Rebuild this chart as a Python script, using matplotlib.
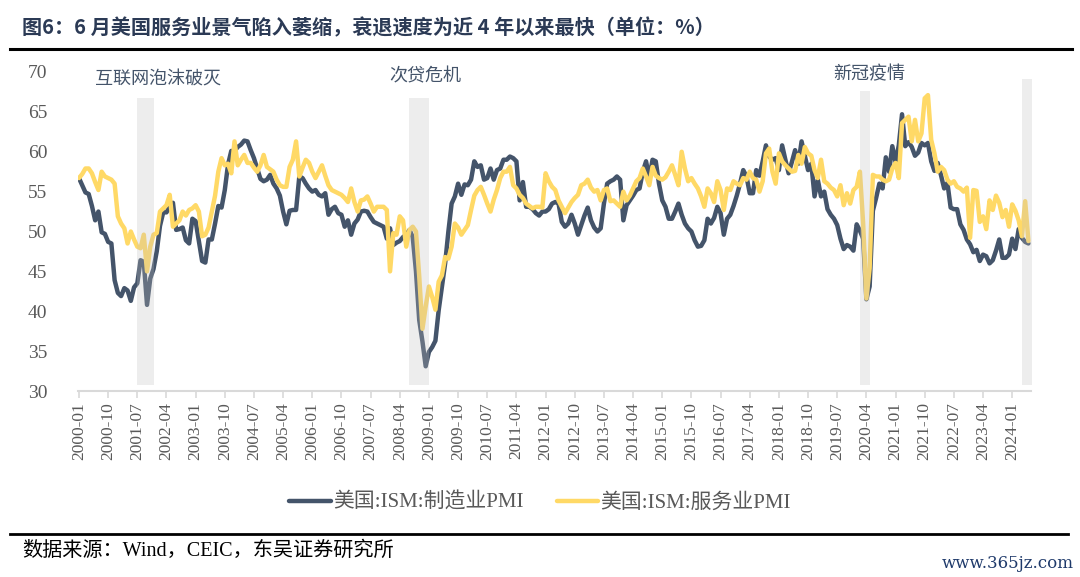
import numpy as np
import pandas as pd
import matplotlib
matplotlib.use('Agg')
from matplotlib import pyplot as plt
from matplotlib.lines import Line2D

# ISM PMI, monthly, 2000-01 .. 2024-06
months = pd.period_range('2000-01', periods=294, freq='M').strftime('%Y-%m').tolist()

mfg = [
    56.7, 55.8, 54.9, 54.7, 53.2, 51.4, 52.5, 49.9, 49.7, 48.7, 48.5, 43.9,  # 2000
    42.3, 41.9, 42.9, 42.6, 41.3, 43.0, 43.5, 46.4, 46.2, 40.8, 44.1, 45.3,  # 2001
    47.5, 50.7, 52.4, 52.4, 53.1, 53.6, 50.2, 50.3, 50.5, 48.9, 48.5, 51.6,  # 2002
    51.3, 48.8, 46.3, 46.1, 49.0, 49.0, 51.0, 53.2, 53.0, 55.2, 58.4, 60.1,  # 2003
    60.1, 60.6, 60.9, 61.4, 61.3, 60.2, 59.2, 57.9, 56.6, 56.3, 56.5, 57.1,  # 2004
    56.0, 55.4, 54.5, 52.5, 50.9, 52.6, 52.7, 52.7, 56.9, 56.7, 56.0, 55.4,  # 2005
    55.0, 55.2, 54.6, 54.4, 54.8, 52.1, 52.8, 53.1, 52.3, 52.1, 50.6, 51.4,  # 2006
    49.6, 51.0, 51.5, 52.5, 52.6, 52.5, 51.8, 51.2, 51.0, 50.8, 50.6, 49.1,  # 2007
    50.4, 48.3, 48.6, 48.8, 49.3, 49.6, 50.2, 49.3, 45.0, 38.9, 36.2, 33.1,  # 2008
    34.9, 35.5, 36.3, 40.1, 43.0, 46.0, 50.0, 53.5, 54.4, 56.0, 54.6, 55.9,  # 2009
    55.8, 56.5, 58.8, 58.1, 58.3, 56.5, 56.7, 57.9, 56.5, 57.7, 57.9, 59.0,  # 2010
    59.0, 59.4, 59.2, 58.8, 53.9, 56.2, 53.1, 53.1, 52.8, 52.3, 52.0, 52.5,  # 2011
    52.5, 52.8, 53.5, 53.7, 53.5, 51.2, 50.6, 51.0, 52.1, 51.0, 49.6, 50.8,  # 2012
    52.0, 53.0, 51.4, 50.5, 50.0, 50.4, 53.5, 56.0, 56.3, 56.5, 56.9, 56.5,  # 2013
    51.4, 53.3, 53.9, 54.5, 55.2, 55.4, 57.5, 58.8, 56.7, 59.0, 58.8, 56.0,  # 2014
    53.9, 53.1, 51.6, 51.6, 52.5, 53.5, 52.1, 51.0, 50.4, 50.0, 48.9, 48.1,  # 2015
    48.2, 48.9, 51.6, 51.0, 51.7, 53.1, 52.3, 49.6, 51.6, 52.1, 53.2, 54.5,  # 2016
    56.0, 57.7, 56.9, 54.8, 54.8, 57.7, 57.0, 58.8, 60.8, 59.4, 59.0, 59.2,  # 2017
    57.7, 60.8, 59.0, 57.3, 58.7, 60.2, 58.5, 61.3, 59.5, 57.7, 58.5, 54.4,  # 2018
    56.5, 54.4, 55.0, 52.8, 52.1, 51.6, 50.8, 49.1, 47.8, 48.3, 48.1, 47.6,  # 2019
    50.9, 50.1, 49.1, 41.5, 43.1, 52.6, 54.2, 56.0, 55.4, 59.3, 57.5, 60.7,  # 2020
    58.7, 60.8, 64.7, 60.7, 61.2, 60.6, 59.5, 59.9, 61.1, 60.8, 61.1, 58.8,  # 2021
    57.6, 58.6, 57.1, 55.4, 56.1, 53.0, 52.8, 52.8, 50.9, 50.2, 49.0, 48.4,  # 2022
    47.4, 47.7, 46.3, 47.1, 46.9, 46.0, 46.4, 47.6, 49.0, 46.7, 46.7, 47.1,  # 2023
    49.1, 47.8, 50.3, 49.2, 48.7, 48.5,                                      # 2024
]

svc = [
    56.7, 57.2, 57.9, 57.9, 57.3, 56.2, 55.2, 57.5, 56.9, 56.7, 56.5, 56.0,  # 2000
    51.9, 51.0, 50.4, 48.5, 50.0, 49.0, 48.1, 47.9, 49.6, 45.0, 48.1, 49.6,  # 2001
    49.8, 52.5, 52.9, 53.3, 54.6, 50.6, 51.0, 51.4, 52.5, 52.0, 52.7, 52.9,  # 2002
    53.3, 52.5, 49.4, 49.6, 50.5, 52.5, 54.5, 57.5, 59.2, 58.3, 58.5, 57.3,  # 2003
    61.3, 58.3, 59.0, 59.6, 58.6, 58.6, 58.0, 57.5, 58.3, 59.6, 58.1, 57.8,  # 2004
    57.5, 56.5, 55.8, 55.6, 55.6, 58.1, 59.0, 61.3, 56.9, 58.0, 59.0, 58.6,  # 2005
    57.5, 56.7, 57.5, 58.3, 57.0, 55.8, 55.2, 55.0, 54.8, 54.6, 54.2, 53.7,  # 2006
    55.4, 53.7, 52.5, 53.9, 54.0, 54.4, 53.5, 52.5, 53.1, 53.1, 53.1, 52.7,  # 2007
    45.0, 49.8, 49.6, 51.9, 51.4, 48.1, 50.2, 50.6, 50.0, 44.4, 37.8, 40.6,  # 2008
    43.1, 41.8, 40.2, 43.7, 44.5, 46.8, 46.6, 48.1, 51.0, 50.5, 49.6, 50.2,  # 2009
    50.8, 52.7, 54.5, 55.2, 55.6, 54.6, 53.5, 52.5, 54.0, 55.2, 56.7, 57.5,  # 2010
    57.5, 58.1, 55.8, 55.4, 54.6, 54.2, 53.5, 53.2, 52.9, 53.1, 53.1, 53.0,  # 2011
    57.3, 56.3, 55.6, 55.2, 53.9, 53.1, 52.3, 53.0, 53.7, 54.2, 54.6, 55.8,  # 2012
    56.0, 56.5, 55.5, 55.0, 55.2, 53.9, 55.2, 55.4, 53.8, 53.9, 53.5, 53.1,  # 2013
    55.0, 53.9, 54.5, 55.4, 56.3, 56.7, 57.9, 56.9, 55.8, 58.1, 57.0, 56.7,  # 2014
    56.5, 56.8, 57.5, 58.3, 57.1, 55.8, 60.0, 57.9, 56.3, 56.7, 56.0, 55.4,  # 2015
    54.4, 53.1, 55.4, 54.8, 53.7, 56.3, 55.2, 52.7, 55.4, 55.2, 56.3, 56.0,  # 2016
    55.8, 56.7, 56.5, 57.5, 56.7, 56.5, 55.0, 56.3, 59.8, 60.4, 57.5, 56.0,  # 2017
    59.8, 58.8, 58.3, 57.9, 57.5, 57.6, 59.6, 58.5, 60.6, 59.8, 59.5, 57.7,  # 2018
    56.7, 59.0, 56.3, 56.0, 55.5, 55.2, 54.4, 55.8, 53.3, 54.8, 53.5, 55.2,  # 2019
    55.6, 57.5, 51.0, 41.6, 45.4, 57.1, 56.9, 56.9, 56.5, 56.3, 56.5, 57.9,  # 2020
    58.6, 56.7, 63.6, 64.0, 64.4, 61.3, 64.0, 61.3, 62.3, 66.7, 67.1, 61.5,  # 2021
    59.8, 57.5, 58.1, 57.7, 56.5, 56.0, 56.3, 55.6, 55.4, 55.0, 55.5, 49.2,  # 2022
    55.2, 55.1, 51.2, 51.9, 50.3, 53.9, 52.7, 54.5, 53.6, 51.8, 52.7, 50.6,  # 2023
    53.4, 52.6, 51.4, 49.4, 53.8, 48.8,                                      # 2024
]

# shaded periods
band_names = ['互联网泡沫破灭', '次贷危机', '新冠疫情', '']
band_start = ['2001-07', '2008-07', '2020-02', '2024-04']
band_end = ['2001-12', '2009-01', '2020-05', '2024-07']
band_top = [66.7, 66.8, 67.6, 69.1]
band_bottom = 30.75

tick_step = 9

navy = '#44546A'
yellow = '#FFD966'
grey_txt = '#595959'
fam = ['Liberation Serif', 'Noto Sans CJK SC']
plt.rcParams['font.family'] = fam

fig = plt.figure(figsize=(10.8, 5.77), dpi=100)
ax = fig.add_axes([78 / 1080, 1 - 391 / 577, 953 / 1080, 319 / 577])

x = np.arange(len(months))
ax.plot(x, mfg, color=navy, lw=3.2, label='美国:ISM:制造业PMI', zorder=2, solid_capstyle='round')
ax.plot(x, svc, color=yellow, lw=3.2, label='美国:ISM:服务业PMI', zorder=2, solid_capstyle='round')

def midx(m):
    return (pd.Period(m, freq='M') - pd.Period('2000-01', freq='M')).n

for s, e, top in zip(band_start, band_end, band_top):
    ax.fill_between([midx(s) - 0.1, midx(e) + 0.1], band_bottom, top,
                    color='#BFBFBF', alpha=0.28, lw=0, zorder=3)

# period labels
ax.text(24.4, 69.0, band_names[0], color=navy, fontsize=13, ha='center', va='center',
        family='Noto Sans CJK SC')
ax.text(106.8, 69.4, band_names[1], color=navy, fontsize=13, ha='center', va='center',
        family='Noto Sans CJK SC')
ax.text(243.8, 69.75, band_names[2], color=navy, fontsize=13, ha='center', va='center',
        family='Noto Sans CJK SC')

ax.set_xlim(-0.3, 293.8)
ax.set_ylim(30, 70)
ax.set_yticks(np.arange(30, 71, 5))
ax.set_xticks(x[::tick_step])
ax.set_xticklabels(months[::tick_step], rotation=90)
ax.tick_params(axis='y', length=0, labelsize=14, labelcolor=grey_txt, pad=22)
ax.tick_params(axis='x', length=5, width=1.2, color='#D9D9D9', labelsize=12.5,
               labelcolor=grey_txt, pad=3)
for sp in ['top', 'right', 'left']:
    ax.spines[sp].set_visible(False)
ax.spines['bottom'].set_color('#D9D9D9')
ax.spines['bottom'].set_linewidth(1.5)

fig.legend(loc='center', bbox_to_anchor=(0.5, 1 - 503 / 577), ncol=2, frameon=False,
           fontsize=15, handlelength=2.0, handletextpad=0.1, columnspacing=1.6,
           labelcolor=grey_txt)

# title, rules and source
fig.text(22 / 1080, 1 - 28 / 577, '图6：6 月美国服务业景气陷入萎缩，衰退速度为近 4 年以来最快（单位：%）',
         fontsize=14.5, fontweight='bold', color='#2B3A55', va='center', ha='left',
         family='Noto Sans CJK SC')
fig.add_artist(Line2D([10 / 1080, 1072 / 1080], [1 - 49 / 577] * 2, color='black', lw=2.2))
fig.add_artist(Line2D([10 / 1080, 1068 / 1080], [1 - 534 / 577] * 2, color='black', lw=2.0))
fig.text(22 / 1080, 1 - 551 / 577, '数据来源：Wind，CEIC，东吴证券研究所', fontsize=14.5,
         color='black', va='center', ha='left')
fig.text(1074 / 1080, 1 - 563 / 577, 'www.365jz.com', fontsize=12, color='#1F3A6B',
         va='center', ha='right', family='DejaVu Serif')

fig.savefig('out.png', dpi=100)
